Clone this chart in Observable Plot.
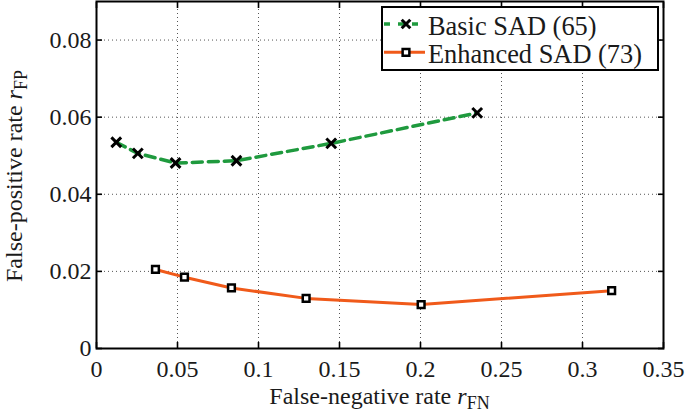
<!DOCTYPE html>
<html><head><meta charset="utf-8">
<script src="https://cdn.jsdelivr.net/npm/d3@7"></script>
<script src="https://cdn.jsdelivr.net/npm/@observablehq/plot@0.6"></script>
<style>body{margin:0;background:#fff}</style>
</head><body><div id="chart"></div>
<script>
const seriesNames = ["Basic SAD (65)", "Enhanced SAD (73)"];
const seriesColors = ["#1f9a3e", "#f05a1a"];
const basicFN = [0.0122, 0.0255, 0.0488, 0.0864, 0.1449, 0.2350];
const basicFP = [0.0535, 0.0506, 0.0481, 0.0487, 0.0532, 0.0611];
const enhancedFN = [0.0364, 0.0543, 0.0833, 0.1294, 0.2004, 0.3180];
const enhancedFP = [0.0205, 0.0185, 0.0157, 0.0130, 0.0114, 0.0150];
const xTicks = [0, 0.05, 0.1, 0.15, 0.2, 0.25, 0.3, 0.35];
const xTickLabels = ["0", "0.05", "0.1", "0.15", "0.2", "0.25", "0.3", "0.35"];
const yTicks = [0, 0.02, 0.04, 0.06, 0.08];
const yTickLabels = ["0", "0.02", "0.04", "0.06", "0.08"];
const xLabel = ["False-negative rate ", "r", "FN"];
const yLabel = ["False-positive rate ", "r", "FP"];

const FONT = "Liberation Serif";
const basic = basicFN.map((x, i) => ({x, y: basicFP[i]}));
const enhanced = enhancedFN.map((x, i) => ({x, y: enhancedFP[i]}));

const tickStyle = {strokeWidth: 1.6, stroke: "#000", fill: "none", label: null};
const plot = Plot.plot({
  width: 685,
  height: 412,
  marginLeft: 96,
  marginRight: 22,
  marginTop: 1,
  marginBottom: 64,
  style: {fontFamily: FONT, fontSize: "24px", background: "#fff"},
  x: {domain: [0, 0.35]},
  y: {domain: [0, 0.09]},
  marks: [
    Plot.gridX(xTicks.slice(1, -1), {stroke: "#555", strokeOpacity: 1, strokeWidth: 1, strokeDasharray: "1,3"}),
    Plot.gridY(yTicks.slice(1), {stroke: "#555", strokeOpacity: 1, strokeWidth: 1, strokeDasharray: "1,3"}),
    Plot.line(basic, {x: "x", y: "y", stroke: seriesColors[0], strokeWidth: 3.5, strokeDasharray: "10,6"}),
    Plot.line(enhanced, {x: "x", y: "y", stroke: seriesColors[1], strokeWidth: 3}),
    Plot.dot(basic, {x: "x", y: "y", symbol: "times", r: 4.5, stroke: "#000", strokeWidth: 3}),
    Plot.dot(enhanced, {x: "x", y: "y", symbol: "square", r: 3.8, stroke: "#000", strokeWidth: 2.5, fill: "#fff"}),
    Plot.frame({stroke: "#000", strokeWidth: 2}),
    Plot.axisX(xTicks, {anchor: "bottom", tickSize: 6, dy: -6, ...tickStyle}),
    Plot.axisX(xTicks, {anchor: "top", tickSize: 6, dy: 6, ...tickStyle}),
    Plot.axisY(yTicks, {anchor: "left", tickSize: 6, dx: 6, ...tickStyle}),
    Plot.axisY(yTicks, {anchor: "right", tickSize: 6, dx: -6, ...tickStyle}),
    Plot.axisX(xTicks, {anchor: "bottom", tickSize: 0, tickPadding: 11, label: null, fill: "#1a1a1a",
      fontFamily: FONT, fontSize: 24, tickFormat: d => xTickLabels[xTicks.indexOf(d)]}),
    Plot.axisY(yTicks, {anchor: "left", tickSize: 0, tickPadding: 5, label: null, fill: "#1a1a1a",
      fontFamily: FONT, fontSize: 24, tickFormat: d => yTickLabels[yTicks.indexOf(d)]})
  ]
});
document.getElementById("chart").append(plot);

const svg = d3.select(plot);
function addLabel(parts, transform) {
  const t = svg.append("text")
    .attr("transform", transform)
    .attr("text-anchor", "middle")
    .attr("fill", "#1a1a1a")
    .attr("font-family", FONT)
    .attr("font-size", 24);
  t.append("tspan").text(parts[0]);
  t.append("tspan").attr("font-style", "italic").text(parts[1]);
  t.append("tspan").attr("font-size", 18).attr("dy", 5).text(parts[2]);
}
addLabel(xLabel, "translate(379.5,404)");
addLabel(yLabel, "translate(22,176) rotate(-90)");

// legend
const lg = svg.append("g");
lg.append("rect").attr("x", 382).attr("y", 7).attr("width", 276).attr("height", 63)
  .attr("fill", "#fff").attr("stroke", "#000").attr("stroke-width", 2);
const rowsY = [24, 52.3];
const sym = [d3.symbolTimes, d3.symbolSquare];
seriesNames.forEach((name, i) => {
  const y = rowsY[i];
  lg.append("line").attr("x1", 384).attr("x2", 425).attr("y1", y).attr("y2", y)
    .attr("stroke", seriesColors[i]).attr("stroke-width", i === 0 ? 3.5 : 3)
    .attr("stroke-dasharray", i === 0 ? "6,8" : null);
  lg.append("path").attr("transform", `translate(406,${y})`)
    .attr("d", d3.symbol(sym[i], i === 0 ? Math.PI * 4 * 4 : Math.PI * 3.8 * 3.8)())
    .attr("stroke", "#000").attr("stroke-width", i === 0 ? 3 : 2.5)
    .attr("fill", i === 0 ? "none" : "#fff");
  lg.append("text").attr("transform", `translate(428,${y + 10.5}) scale(1.1)`)
    .attr("text-anchor", "start")
    .attr("fill", "#1a1a1a")
    .attr("font-family", FONT).attr("font-size", 24)
    .text(name);
});
</script>
</body></html>
